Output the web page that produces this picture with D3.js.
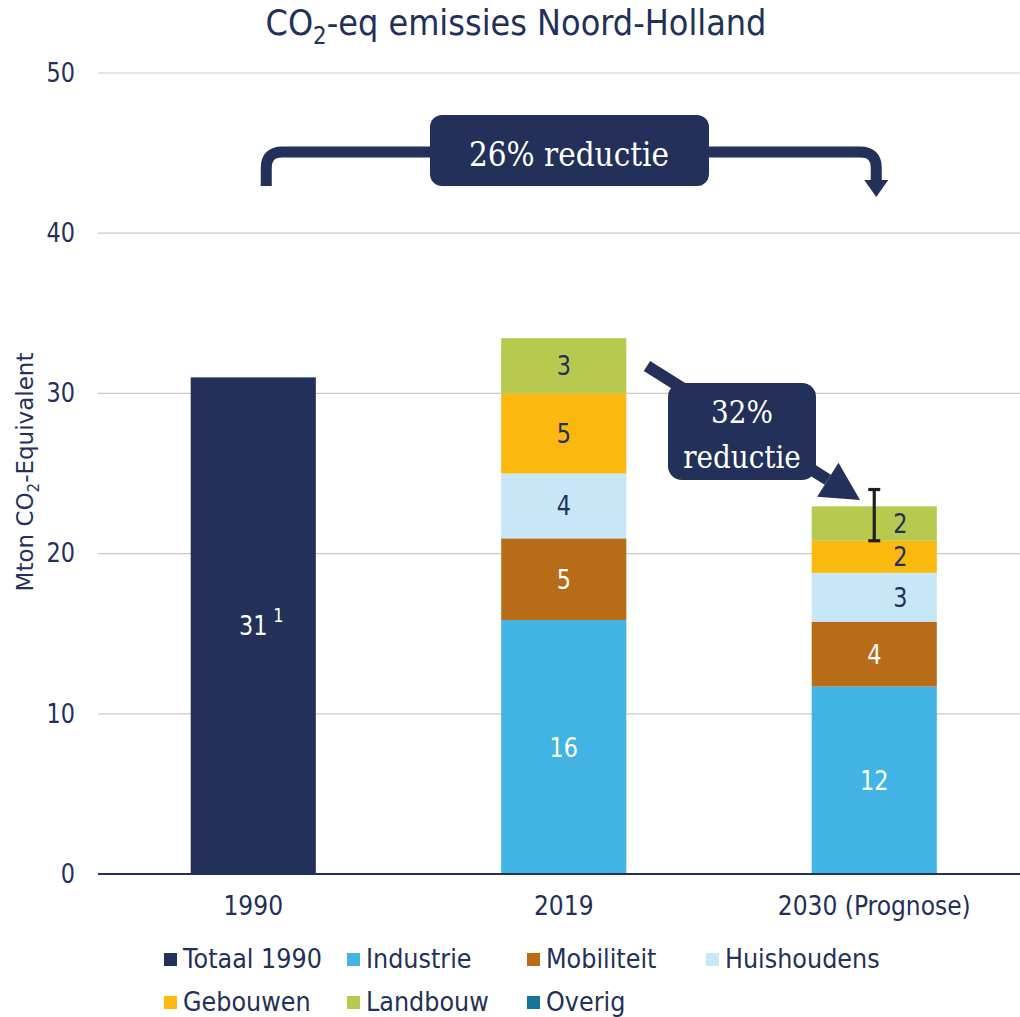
<!DOCTYPE html>
<html><head><meta charset="utf-8">
<script src="https://cdn.jsdelivr.net/npm/d3@7"></script>
<style>body{margin:0;background:#fff}</style>
</head><body>
<svg id="chart" width="1020" height="1017"></svg>
<script>
const categories = ["1990", "2019", "2030 (Prognose)"];
const seriesNames = ["Totaal 1990", "Industrie", "Mobiliteit", "Huishoudens", "Gebouwen", "Landbouw", "Overig"];
const totaal1990 = [31.0, 0, 0];
const industrie = [0, 15.85, 11.7];
const mobiliteit = [0, 5.1, 4.05];
const huishoudens = [0, 4.05, 3.05];
const gebouwen = [0, 5.0, 2.0];
const landbouw = [0, 3.45, 2.15];
const overig = [0, 0, 0];
const valueLabels = [["31", "", ""], ["", "16", "12"], ["", "5", "4"], ["", "4", "3"], ["", "5", "2"], ["", "3", "2"], ["", "", ""]];
const errorLow = [null, null, 20.8];
const errorHigh = [null, null, 24.0];
const yTicks = [0, 10, 20, 30, 40, 50];
const colors = ["#22305A", "#41B4E5", "#B86C17", "#C7E6F7", "#FBB80F", "#B7C94F", "#17759D"];
const labelColors = ["#fff", "#fff", "#fff", "#22305A", "#22305A", "#22305A", "#fff"];

const series = [totaal1990, industrie, mobiliteit, huishoudens, gebouwen, landbouw, overig];
const NAVY = "#22305A";
const FONT = "'DejaVu Sans', Verdana, sans-serif";
const SERIF = "'DejaVu Serif', 'Liberation Serif', serif";

function condense(sel, f) {
  sel.each(function () {
    const t = d3.select(this);
    const x0 = +t.attr("x") || 0;
    t.attr("transform", `translate(${x0},0) scale(${f},1) translate(${-x0},0)`);
  });
  return sel;
}

const svg = d3.select("#chart");
const x = d3.scaleBand().domain(categories).range([98, 1029.5]).paddingInner(0.597).paddingOuter(0.2985);
const y = d3.scaleLinear().domain([0, 50]).range([874, 73]);

// gridlines
svg.append("g").selectAll("line").data(yTicks.filter(d => d > 0)).join("line")
  .attr("x1", 98).attr("x2", 1020).attr("y1", d => y(d)).attr("y2", d => y(d))
  .attr("stroke", "#C9C9CD").attr("stroke-width", 1.2);

// y axis labels
const yAxis = d3.axisLeft(y).tickValues(yTicks).tickSize(0).tickPadding(23);
const ya = svg.append("g").attr("transform", "translate(98,0)").call(yAxis);
ya.select(".domain").remove();
condense(ya.selectAll("text").attr("font-family", FONT).attr("font-size", 26).attr("fill", NAVY), 0.86);

// title
const title = svg.append("text").attr("x", 516).attr("y", 35).attr("text-anchor", "middle")
  .attr("font-family", FONT).attr("font-size", 36).attr("fill", NAVY);
title.append("tspan").text("CO");
title.append("tspan").text("2").attr("font-size", 24).attr("dy", 9);
title.append("tspan").text("-eq emissies Noord-Holland").attr("dy", -9);
condense(title, 0.89);

// y axis title
const yt = svg.append("text").attr("transform", "translate(33,472) rotate(-90)").attr("text-anchor", "middle")
  .attr("font-family", FONT).attr("font-size", 23).attr("fill", NAVY);
yt.append("tspan").text("Mton CO");
yt.append("tspan").text("2").attr("font-size", 15).attr("dy", 6);
yt.append("tspan").text("-Equivalent").attr("dy", -6);

// stacked bars
const rows = categories.map((c, i) => { const o = {cat: c}; seriesNames.forEach((s, k) => o[s] = series[k][i]); return o; });
const stack = d3.stack().keys(seriesNames)(rows);
const bars = svg.append("g");
stack.forEach((layer, k) => {
  bars.selectAll(null).data(layer.filter(d => d[1] - d[0] > 0)).join("rect")
    .attr("x", d => x(d.data.cat)).attr("width", x.bandwidth())
    .attr("y", d => y(d[1])).attr("height", d => y(d[0]) - y(d[1]))
    .attr("fill", colors[k]);
});

// error bar
categories.forEach((c, i) => {
  if (errorLow[i] == null) return;
  const cx = x(c) + x.bandwidth() / 2;
  const g = svg.append("g").attr("stroke", "#231F20").attr("stroke-width", 3.2);
  g.append("line").attr("x1", cx).attr("x2", cx).attr("y1", y(errorLow[i])).attr("y2", y(errorHigh[i]));
  g.append("line").attr("x1", cx - 6).attr("x2", cx + 6).attr("y1", y(errorLow[i])).attr("y2", y(errorLow[i]));
  g.append("line").attr("x1", cx - 6).attr("x2", cx + 6).attr("y1", y(errorHigh[i])).attr("y2", y(errorHigh[i]));
});

// value labels
stack.forEach((layer, k) => {
  layer.forEach((d, i) => {
    const t = valueLabels[k][i];
    if (!t) return;
    let cx = x(d.data.cat) + x.bandwidth() / 2;
    if (errorLow[i] != null && k >= 3) cx += 26;
    const cy = y((d[0] + d[1]) / 2);
    condense(svg.append("text").attr("x", cx).attr("y", cy + 9.5).attr("text-anchor", "middle")
      .attr("font-family", FONT).attr("font-size", 26).attr("fill", labelColors[k]).text(t), 0.86);
    if (k === 0) {
      condense(svg.append("text").attr("x", cx + 20).attr("y", cy - 4).attr("font-family", FONT)
        .attr("font-size", 19).attr("fill", "#fff").text("1"), 0.86);
    }
  });
});

// x axis
const xAxis = d3.axisBottom(x).tickSize(0).tickPadding(23);
const xa = svg.append("g").attr("transform", "translate(0,874)").call(xAxis);
xa.select(".domain").remove();
condense(xa.selectAll("text").attr("font-family", FONT).attr("font-size", 26).attr("fill", NAVY), 0.9);
svg.append("line").attr("x1", 98).attr("x2", 1020).attr("y1", 874).attr("y2", 874)
  .attr("stroke", NAVY).attr("stroke-width", 2.2);

// annotation 1: bracket arrow
const xr = x(categories[2]) + x.bandwidth() / 2 + 2;
const xs = x(categories[0]) + x.bandwidth() / 2 + 13;
const yTop = 152, r = 16;
svg.append("path")
  .attr("d", `M${xs},186 L${xs},${yTop + r} Q${xs},${yTop} ${xs + r},${yTop} L${xr - r},${yTop} Q${xr},${yTop} ${xr},${yTop + r} L${xr},182`)
  .attr("fill", "none").attr("stroke", NAVY).attr("stroke-width", 11);
svg.append("path").attr("d", `M${xr - 12},180 L${xr + 12},180 L${xr},197 Z`).attr("fill", NAVY);
svg.append("rect").attr("x", 430).attr("y", 115).attr("width", 279).attr("height", 71).attr("rx", 12).attr("fill", NAVY);
condense(svg.append("text").attr("x", 569).attr("y", 166).attr("text-anchor", "middle").attr("font-family", SERIF)
  .attr("font-size", 34).attr("fill", "#fff").text("26% reductie"), 0.87);

// annotation 2: diagonal arrow
const ax1 = 647, ay1 = 366, ax2 = 860, ay2 = 500;
const ang = Math.atan2(ay2 - ay1, ax2 - ax1);
const hl = 38, hw = 20;
const bx = ax2 - hl * Math.cos(ang), by = ay2 - hl * Math.sin(ang);
svg.append("line").attr("x1", ax1).attr("y1", ay1).attr("x2", bx).attr("y2", by)
  .attr("stroke", NAVY).attr("stroke-width", 12);
svg.append("path").attr("d", `M${ax2},${ay2} L${bx + hw * Math.sin(ang)},${by - hw * Math.cos(ang)} L${bx - hw * Math.sin(ang)},${by + hw * Math.cos(ang)} Z`).attr("fill", NAVY);
svg.append("rect").attr("x", 668).attr("y", 383).attr("width", 148).attr("height", 97).attr("rx", 14).attr("fill", NAVY);
condense(svg.append("text").attr("x", 742).attr("y", 423).attr("text-anchor", "middle").attr("font-family", SERIF)
  .attr("font-size", 32).attr("fill", "#fff").text("32%"), 0.87);
condense(svg.append("text").attr("x", 742).attr("y", 468).attr("text-anchor", "middle").attr("font-family", SERIF)
  .attr("font-size", 32).attr("fill", "#fff").text("reductie"), 0.87);

// legend
const legendPos = [[164, 960], [347, 960], [527, 960], [706, 960], [164, 1003], [347, 1003], [527, 1003]];
const lg = svg.append("g");
seriesNames.forEach((s, k) => {
  const [lx, ly] = legendPos[k];
  lg.append("rect").attr("x", lx).attr("y", ly - 7).attr("width", 13).attr("height", 13).attr("fill", colors[k]);
  condense(lg.append("text").attr("x", lx + 19).attr("y", ly + 8).attr("font-family", FONT).attr("font-size", 26)
    .attr("fill", NAVY).text(s), 0.92);
});
</script>
</body></html>
